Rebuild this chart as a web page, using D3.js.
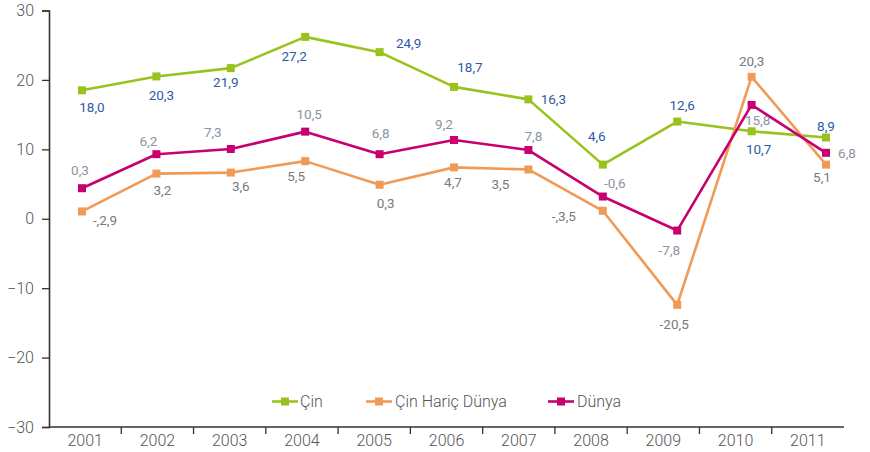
<!DOCTYPE html>
<html>
<head>
<meta charset="utf-8">
<script src="https://cdn.jsdelivr.net/npm/d3@7"></script>
<style>
  html, body { margin: 0; padding: 0; background: #ffffff; }
  svg { display: block; font-family: Roboto, "Open Sans", sans-serif; }
</style>
</head>
<body>
<svg id="chart" width="870" height="452"></svg>
<script>
// ---------- data ----------
const years = ["2001","2002","2003","2004","2005","2006","2007","2008","2009","2010","2011"];
const yTicks = [-30, -20, -10, 0, 10, 20, 30];

const seriesNames = ["Çin", "Çin Hariç Dünya", "Dünya"];

// plotted values (as drawn in the picture)
const cinValues    = [18.5, 20.5, 21.7, 26.2, 24.0, 19.0, 17.2, 7.8, 14.0, 12.6, 11.7];
const haricValues  = [1.05, 6.5, 6.65, 8.3, 4.9, 7.4, 7.1, 1.15, -12.4, 20.45, 7.8];
const dunyaValues  = [4.4, 9.3, 10.05, 12.55, 9.3, 11.35, 9.9, 3.2, -1.7, 16.4, 9.5];

// printed data labels
const cinLabels    = ["18,0","20,3","21,9","27,2","24,9","18,7","16,3","4,6","12,6","10,7","8,9"];
const haricLabels  = ["-,2,9","3,2","3,6","5,5","0,3","4,7","3,5","-,3,5","-20,5","20,3","5,1"];
const dunyaLabels  = ["0,3","6,2","7,3","10,5","6,8","9,2","7,8","-0,6","-7,8","15,8","6,8"];

// ---------- layout / style ----------
const colors = ["#98c21d", "#f19a56", "#c8006f"];
const labelColors = ["#2d5ba5", "#7a7a7a", "#8c93a3"];
// label offsets (px) relative to marker
const cinOff   = [[10,17],[5,19],[-5,14],[-11,19],[29,-9],[16,-20],[25,0],[-6,-28],[5,-16],[7,18],[0,-11]];
const haricOff = [[23,9],[6,17],[10,14],[-9,15],[6,19],[-1,15],[-28,15],[-39,6],[-3,19],[0,-16],[-4,13]];
const dunyaOff = [[-2,-18],[-8,-13],[-18,-17],[4,-17],[1,-21],[-10,-16],[5,-14],[12,-13],[-8,20],[6,15],[21,0]];

const svg = d3.select("#chart");

const y = d3.scaleLinear().domain([-30, 30]).range([427, 10.5]);
const xBand = d3.scaleBand().domain(years).range([49, 844]);
const xPt = d3.scalePoint().domain(years).range([82, 826]);

// y axis
const yAxis = svg.append("g").attr("transform", "translate(49,0)")
  .call(d3.axisLeft(y).tickValues(yTicks).tickSize(7).tickPadding(8).tickFormat(d3.format("d")));
yAxis.select(".domain").attr("stroke", "#333").attr("stroke-width", 1.6);
yAxis.selectAll(".tick line").attr("stroke", "#333").attr("stroke-width", 1.3);
yAxis.selectAll(".tick text").attr("fill", "#555").style("font-size", "16px")
  .style("font-weight", "300").style("font-family", "Roboto, sans-serif");

// x axis
const xg = svg.append("g");
xg.append("line").attr("x1", 49).attr("x2", 844).attr("y1", y(-30)).attr("y2", y(-30))
  .attr("stroke", "#333").attr("stroke-width", 1.6);
xg.selectAll("line.tk").data(years.slice(1)).enter().append("line").attr("class", "tk")
  .attr("x1", d => xBand(d)).attr("x2", d => xBand(d))
  .attr("y1", y(-30)).attr("y2", y(-30) + 7)
  .attr("stroke", "#333").attr("stroke-width", 1.3);
xg.selectAll("text").data(years).enter().append("text")
  .attr("x", d => xBand(d) + xBand.bandwidth() / 2)
  .attr("y", y(-30) + 19)
  .attr("text-anchor", "middle")
  .attr("fill", "#555")
  .style("font-size", "16px")
  .style("font-weight", "300")
  .text(d => d);

// series
const series = [
  { name: seriesNames[0], values: cinValues, labels: cinLabels, off: cinOff },
  { name: seriesNames[1], values: haricValues, labels: haricLabels, off: haricOff },
  { name: seriesNames[2], values: dunyaValues, labels: dunyaLabels, off: dunyaOff }
];

const line = d3.line().x((d, i) => xPt(years[i])).y(d => y(d));
const ms = 8;

series.forEach((s, si) => {
  const g = svg.append("g");
  g.append("path").datum(s.values).attr("d", line)
    .attr("fill", "none").attr("stroke", colors[si]).attr("stroke-width", 2.6)
    .attr("stroke-linejoin", "round");
  g.selectAll("rect").data(s.values).enter().append("rect")
    .attr("x", (d, i) => xPt(years[i]) - ms / 2)
    .attr("y", d => y(d) - ms / 2)
    .attr("width", ms).attr("height", ms)
    .attr("fill", colors[si]);
});

series.forEach((s, si) => {
  svg.append("g").selectAll("text").data(s.values).enter().append("text")
    .attr("x", (d, i) => xPt(years[i]) + s.off[i][0])
    .attr("y", (d, i) => y(d) + s.off[i][1])
    .attr("dy", "0.35em")
    .attr("text-anchor", "middle")
    .attr("fill", labelColors[si])
    .style("font-size", "13.5px")
    .style("font-weight", "400")
    .text((d, i) => s.labels[i]);
});

// legend
const legendItems = [
  { x: 272, tx: 300 },
  { x: 366, tx: 395 },
  { x: 548, tx: 577 }
];
const ly = 401.5;
legendItems.forEach((it, i) => {
  const g = svg.append("g");
  g.append("line").attr("x1", it.x).attr("x2", it.x + 26).attr("y1", ly).attr("y2", ly)
    .attr("stroke", colors[i]).attr("stroke-width", 2.6);
  g.append("rect").attr("x", it.x + 13 - ms / 2).attr("y", ly - ms / 2)
    .attr("width", ms).attr("height", ms).attr("fill", colors[i]);
  g.append("text").attr("x", it.tx).attr("y", ly).attr("dy", "0.35em")
    .attr("fill", "#555").style("font-size", "16px").style("font-weight", "300")
    .text(seriesNames[i]);
});
</script>
</body>
</html>
